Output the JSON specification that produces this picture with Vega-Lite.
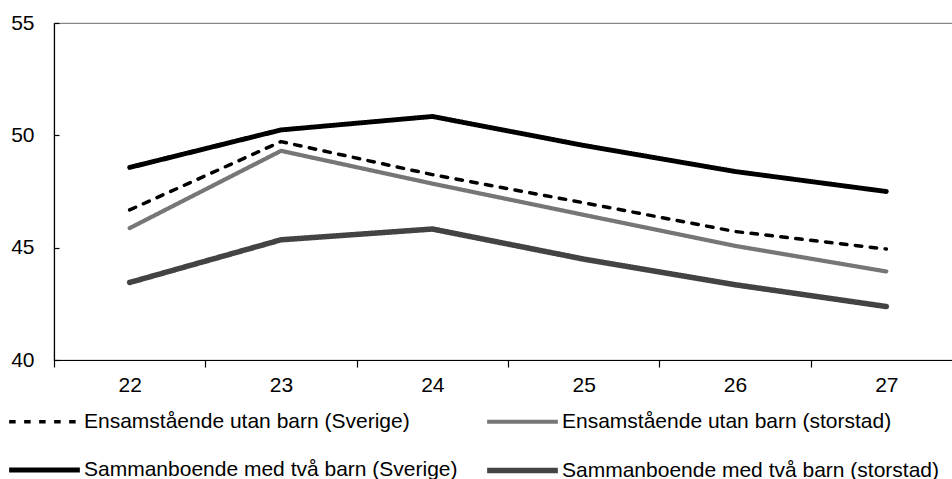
{
  "$schema": "https://vega.github.io/schema/vega-lite/v6.json",
  "autosize": "none",
  "padding": {"left": 54, "top": 23, "right": 0, "bottom": 119},
  "width": 908,
  "height": 337,
  "background": "white",
  "config": {
    "font": "Liberation Sans",
    "view": {"stroke": "#878787", "strokeWidth": 1.2}
  },
  "data": {
    "values": [
      {"ald": 22, "serie": "Ensamstående utan barn (Sverige)", "v": 46.68},
      {"ald": 23, "serie": "Ensamstående utan barn (Sverige)", "v": 49.72},
      {"ald": 24, "serie": "Ensamstående utan barn (Sverige)", "v": 48.25},
      {"ald": 25, "serie": "Ensamstående utan barn (Sverige)", "v": 47.0},
      {"ald": 26, "serie": "Ensamstående utan barn (Sverige)", "v": 45.72},
      {"ald": 27, "serie": "Ensamstående utan barn (Sverige)", "v": 44.94},
      {"ald": 22, "serie": "Ensamstående utan barn (storstad)", "v": 45.87},
      {"ald": 23, "serie": "Ensamstående utan barn (storstad)", "v": 49.31},
      {"ald": 24, "serie": "Ensamstående utan barn (storstad)", "v": 47.85},
      {"ald": 25, "serie": "Ensamstående utan barn (storstad)", "v": 46.46},
      {"ald": 26, "serie": "Ensamstående utan barn (storstad)", "v": 45.08},
      {"ald": 27, "serie": "Ensamstående utan barn (storstad)", "v": 43.94},
      {"ald": 22, "serie": "Sammanboende med två barn (Sverige)", "v": 48.57},
      {"ald": 23, "serie": "Sammanboende med två barn (Sverige)", "v": 50.24},
      {"ald": 24, "serie": "Sammanboende med två barn (Sverige)", "v": 50.84},
      {"ald": 25, "serie": "Sammanboende med två barn (Sverige)", "v": 49.55},
      {"ald": 26, "serie": "Sammanboende med två barn (Sverige)", "v": 48.39},
      {"ald": 27, "serie": "Sammanboende med två barn (Sverige)", "v": 47.5},
      {"ald": 22, "serie": "Sammanboende med två barn (storstad)", "v": 43.45},
      {"ald": 23, "serie": "Sammanboende med två barn (storstad)", "v": 45.35},
      {"ald": 24, "serie": "Sammanboende med två barn (storstad)", "v": 45.83},
      {"ald": 25, "serie": "Sammanboende med två barn (storstad)", "v": 44.49},
      {"ald": 26, "serie": "Sammanboende med två barn (storstad)", "v": 43.35},
      {"ald": 27, "serie": "Sammanboende med två barn (storstad)", "v": 42.38}
    ]
  },
  "mark": {"type": "line", "strokeCap": "round", "strokeJoin": "round"},
  "encoding": {
    "x": {
      "field": "ald",
      "type": "ordinal",
      "bandPosition": 0.5,
      "scale": {"type": "band", "paddingInner": 0, "paddingOuter": 0},
      "axis": {
        "title": null,
        "labelAngle": 0,
        "tickBand": "extent",
        "domainColor": "#000000",
        "domainWidth": 1.2,
        "tickColor": "#000000",
        "tickWidth": 1.2,
        "tickSize": 7,
        "labelPadding": 7,
        "labelFontSize": 21,
        "labelColor": "#000000",
        "labelFont": "Liberation Sans"
      }
    },
    "y": {
      "field": "v",
      "type": "quantitative",
      "scale": {"domain": [40, 55], "nice": false, "zero": false},
      "axis": {
        "title": null,
        "values": [40, 45, 50, 55],
        "grid": false,
        "domainColor": "#000000",
        "domainWidth": 1.2,
        "tickColor": "#000000",
        "tickWidth": 1.2,
        "tickSize": -5,
        "labelPadding": 25,
        "labelFontSize": 21,
        "labelColor": "#000000",
        "labelFont": "Liberation Sans"
      }
    },
    "color": {
      "field": "serie",
      "type": "nominal",
      "scale": {
        "domain": ["Ensamstående utan barn (Sverige)", "Ensamstående utan barn (storstad)", "Sammanboende med två barn (Sverige)", "Sammanboende med två barn (storstad)"],
        "range": ["#000000", "#767676", "#000000", "#434343"]
      },
      "legend": {
        "title": null,
        "orient": "none",
        "legendX": -48,
        "legendY": 361,
        "direction": "horizontal",
        "columns": 2,
        "columnPadding": 18,
        "rowPadding": 0,
        "symbolType": "stroke",
        "symbolSize": 5000,
        "labelOffset": 1,
        "labelFontSize": 21,
        "labelColor": "#000000",
        "labelFont": "Liberation Sans",
        "labelLimit": 600
      }
    },
    "strokeDash": {
      "field": "serie",
      "type": "nominal",
      "scale": {
        "domain": ["Ensamstående utan barn (Sverige)", "Ensamstående utan barn (storstad)", "Sammanboende med två barn (Sverige)", "Sammanboende med två barn (storstad)"],
        "range": [[6.5, 8.5], [1, 0], [1, 0], [1, 0]]
      },
      "legend": null
    },
    "strokeWidth": {
      "field": "serie",
      "type": "nominal",
      "scale": {
        "domain": ["Ensamstående utan barn (Sverige)", "Ensamstående utan barn (storstad)", "Sammanboende med två barn (Sverige)", "Sammanboende med två barn (storstad)"],
        "range": [3.5, 5.5, 3.5, 5]
      },
      "legend": null
    }
  }
}
